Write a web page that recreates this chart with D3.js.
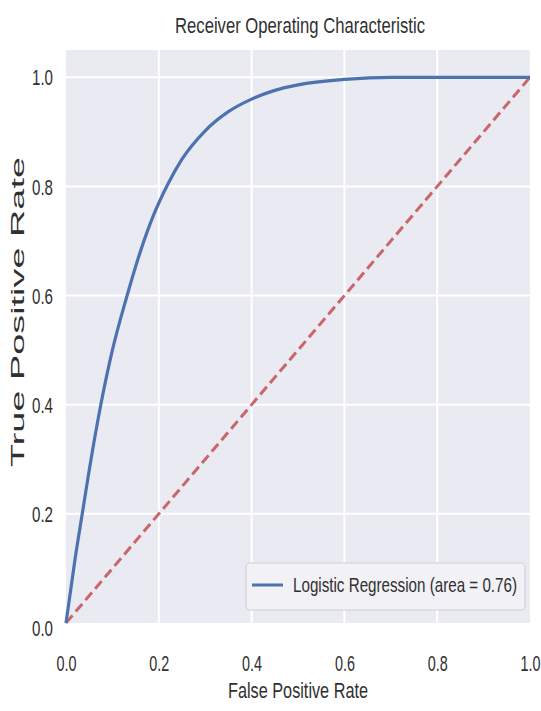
<!DOCTYPE html>
<html lang="en">
<head>
	<meta charset="utf-8">
	<title>Receiver Operating Characteristic</title>
	<script type="text/javascript" src="https://d3js.org/d3.v7.min.js"></script>
	<style>
		body { margin: 0; background: #fff; }
		text { font-family: "Liberation Sans", Arial, sans-serif; fill: #303030; }
	</style>
</head>
<body>
	<div id="chart"></div>
	<script type="text/javascript">

		// ROC curve
		var fpr = [0, 0.01, 0.02, 0.035, 0.05, 0.075, 0.1, 0.13, 0.16, 0.19, 0.22, 0.25, 0.3, 0.35, 0.4, 0.45, 0.5, 0.6, 0.7, 0.8, 1.0];
		var tpr = [0, 0.06, 0.12, 0.2, 0.28, 0.4, 0.5, 0.595, 0.68, 0.75, 0.805, 0.85, 0.902, 0.937, 0.96, 0.976, 0.986, 0.996, 1.0, 1.0, 1.0];
		var chance = [0, 1];
		var xTicks = [0, 0.2, 0.4, 0.6, 0.8, 1.0];
		var yTicks = [0, 0.2, 0.4, 0.6, 0.8, 1.0];
		var legendLabel = "Logistic Regression (area = 0.76)";

		var w = 541,
		    h = 711;

		var svg = d3.select("#chart")
			.append("svg")
			.attr("width", w)
			.attr("height", h);

		var x = d3.scaleLinear().domain([0, 1]).range([66, 530]);
		var y = d3.scaleLinear().domain([0, 1.05]).range([623, 50]);

		// background
		svg.append("rect")
			.attr("x", x(0)).attr("y", y(1.05))
			.attr("width", x(1) - x(0)).attr("height", y(0) - y(1.05))
			.attr("fill", "#eaeaf2");

		// grid
		svg.selectAll(".vgrid")
			.data(xTicks.slice(1, -1))
			.enter().append("line")
			.attr("x1", function(d) { return x(d); }).attr("x2", function(d) { return x(d); })
			.attr("y1", y(0)).attr("y2", y(1.05))
			.attr("stroke", "#fff").attr("stroke-width", 2);
		svg.selectAll(".hgrid")
			.data(yTicks.slice(1))
			.enter().append("line")
			.attr("x1", x(0)).attr("x2", x(1))
			.attr("y1", function(d) { return y(d); }).attr("y2", function(d) { return y(d); })
			.attr("stroke", "#fff").attr("stroke-width", 2);

		// axes
		var fmt = d3.format(".1f");
		var xAxis = svg.append("g")
			.attr("transform", "translate(0," + y(0) + ")")
			.call(d3.axisBottom(x).tickValues(xTicks).tickFormat(fmt).tickSize(0).tickPadding(0));
		xAxis.select(".domain").remove();
		xAxis.selectAll("text")
			.attr("y", 40).attr("dy", "0.35em")
			.attr("font-size", 22).attr("font-family", null)
			.attr("textLength", 20).attr("lengthAdjust", "spacingAndGlyphs")
			.attr("fill", "#454545");

		var yAxis = svg.append("g")
			.attr("transform", "translate(" + x(0) + ",0)")
			.call(d3.axisLeft(y).tickValues(yTicks).tickFormat(fmt).tickSize(0).tickPadding(0));
		yAxis.select(".domain").remove();
		yAxis.selectAll("text")
			.attr("x", -13).attr("dy", "0.35em")
			.attr("font-size", 22).attr("font-family", null)
			.attr("textLength", 21).attr("lengthAdjust", "spacingAndGlyphs")
			.attr("fill", "#454545");
		// 0.0 label sits a little lower in the picture
		yAxis.selectAll("text").filter(function(d) { return d === 0; }).attr("dy", "0.55em");

		// lines
		var line = d3.line()
			.x(function(d) { return x(d[0]); })
			.y(function(d) { return y(d[1]); })
			.curve(d3.curveMonotoneX);

		svg.append("path")
			.datum(d3.zip(chance, chance))
			.attr("d", d3.line().x(function(d) { return x(d[0]); }).y(function(d) { return y(d[1]); }))
			.attr("fill", "none")
			.attr("stroke", "#c44e52")
			.attr("stroke-width", 3)
			.attr("stroke-dasharray", "10,5")
			.attr("opacity", 0.85);

		svg.append("path")
			.datum(d3.zip(fpr, tpr))
			.attr("d", line)
			.attr("fill", "none")
			.attr("stroke", "#4c72b0")
			.attr("stroke-width", 3.2);

		// legend
		var lg = svg.append("g");
		lg.append("rect")
			.attr("x", 246).attr("y", 563)
			.attr("width", 279).attr("height", 47)
			.attr("rx", 4)
			.attr("fill", "#f1f1f6")
			.attr("stroke", "#d0d0d8")
			.attr("stroke-width", 1.2);
		lg.append("line")
			.attr("x1", 252).attr("x2", 283)
			.attr("y1", 585).attr("y2", 585)
			.attr("stroke", "#4c72b0").attr("stroke-width", 3);
		lg.append("text")
			.attr("x", 293).attr("y", 585).attr("dy", "0.35em")
			.attr("font-size", 21)
			.attr("textLength", 224).attr("lengthAdjust", "spacingAndGlyphs")
			.text(legendLabel);

		// titles
		svg.append("text")
			.attr("x", 300).attr("y", 25).attr("dy", "0.35em")
			.attr("text-anchor", "middle")
			.attr("font-size", 22)
			.attr("textLength", 250).attr("lengthAdjust", "spacingAndGlyphs")
			.text("Receiver Operating Characteristic");

		svg.append("text")
			.attr("x", 298).attr("y", 690).attr("dy", "0.35em")
			.attr("text-anchor", "middle")
			.attr("font-size", 22)
			.attr("textLength", 140).attr("lengthAdjust", "spacingAndGlyphs")
			.text("False Positive Rate");

		svg.append("text")
			.attr("transform", "translate(17,312) rotate(-90)")
			.attr("dy", "0.35em")
			.attr("text-anchor", "middle")
			.attr("font-size", 19)
			.attr("textLength", 310).attr("lengthAdjust", "spacingAndGlyphs")
			.text("True Positive Rate");
	</script>
</body>
</html>
